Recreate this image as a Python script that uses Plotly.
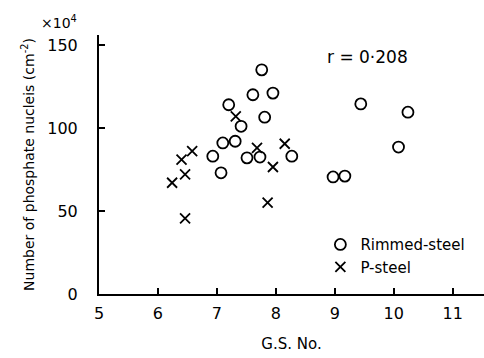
import plotly.graph_objects as go

# Rimmed-steel (circles)
rim_gs = [7.76, 7.61, 7.95, 7.20, 7.81, 7.41, 7.10, 7.31, 6.93, 7.51, 7.73, 7.07, 8.27, 9.44, 10.24, 10.08, 8.97, 9.17]
rim_n = [135, 120, 121, 114, 106.5, 101, 91, 92, 83, 82, 82.5, 73, 83, 114.5, 109.5, 88.5, 70.5, 71]

# P-steel (crosses)
p_gs = [7.32, 8.15, 7.68, 6.58, 6.40, 7.95, 6.46, 6.24, 7.86, 6.46]
p_n = [107, 90.5, 88, 86, 81, 76.5, 72, 67, 55, 45.5]

x_ticks = [5, 6, 7, 8, 9, 10, 11]
y_ticks = [0, 50, 100, 150]

FONT = "DejaVu Sans"

fig = go.Figure()
fig.add_trace(go.Scatter(
    x=rim_gs, y=rim_n, mode="markers", name="Rimmed-steel",
    marker=dict(symbol="circle-open", size=11, color="black", line=dict(width=1.8, color="black")),
))
fig.add_trace(go.Scatter(
    x=p_gs, y=p_n, mode="markers", name="P-steel",
    marker=dict(symbol="x-thin-open", size=10, color="black", line=dict(width=1.8, color="black")),
))

fig.update_layout(
    width=484, height=358,
    margin=dict(l=99, r=0, t=35, b=64),
    paper_bgcolor="white", plot_bgcolor="white",
    font=dict(family=FONT, size=15, color="black"),
    showlegend=True,
    legend=dict(x=0.575, y=0.148, xanchor="left", yanchor="middle",
                bgcolor="rgba(0,0,0,0)", font=dict(size=15, family=FONT),
                itemwidth=30, tracegroupgap=0),
    xaxis=dict(
        range=[5, 11.53], tickvals=x_ticks, ticktext=[str(v) for v in x_ticks],
        showgrid=False, zeroline=False, showline=True, linecolor="black", linewidth=2,
        ticks="inside", ticklen=6, tickwidth=1.5, tickcolor="black",
        tickfont=dict(size=16, family=FONT), ticklabelstandoff=4,
        title=dict(text="G.S. No.", font=dict(size=15, family=FONT), standoff=16),
    ),
    yaxis=dict(
        range=[0, 156], tickvals=y_ticks, ticktext=[str(v) for v in y_ticks],
        showgrid=False, zeroline=False, showline=True, linecolor="black", linewidth=2,
        ticks="inside", ticklen=6, tickwidth=1.5, tickcolor="black",
        tickfont=dict(size=16, family=FONT), ticklabelstandoff=16,
        title=dict(text="Number of phosphate nucleis (cm<sup>-2</sup>)", font=dict(size=14, family=FONT), standoff=9),
    ),
    annotations=[
        dict(text="r = 0·208", xref="paper", yref="paper", x=0.698, y=0.915,
             showarrow=False, font=dict(size=17, family=FONT), xanchor="center", yanchor="middle"),
        dict(text="×10<sup>4</sup>", xref="paper", yref="paper", x=-0.105, y=1.05,
             showarrow=False, font=dict(size=14, family=FONT), xanchor="center", yanchor="middle"),
    ],
)

fig.write_html("out.html")
